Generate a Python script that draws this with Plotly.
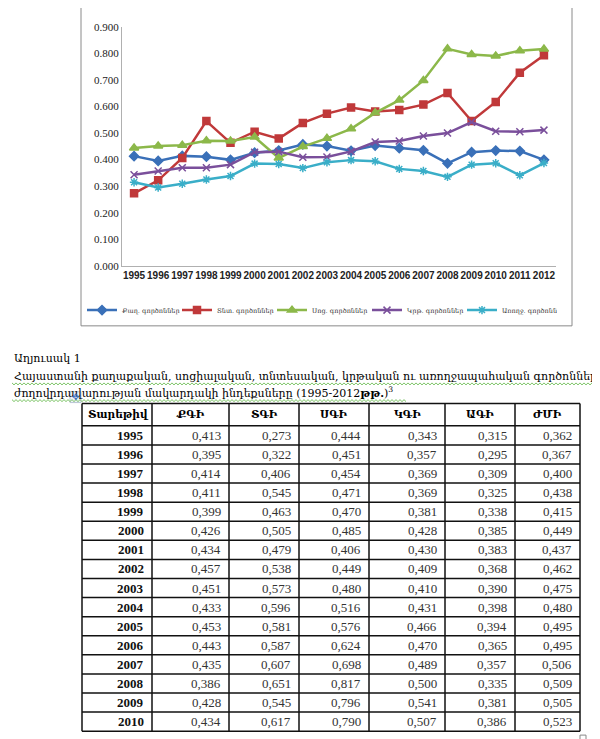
import plotly.graph_objects as go

years = ["1995", "1996", "1997", "1998", "1999", "2000", "2001", "2002", "2003",
         "2004", "2005", "2006", "2007", "2008", "2009", "2010", "2011", "2012"]
series_names = ["Քաղ. գործոններ", "Տնտ. գործոններ", "Սոց. գործոններ",
                "Կրթ. գործոններ", "Առողջ. գործոններ"]
political = [0.413, 0.395, 0.414, 0.411, 0.399, 0.426, 0.434, 0.457, 0.451,
             0.433, 0.453, 0.443, 0.435, 0.386, 0.428, 0.434, 0.432, 0.399]
economic = [0.273, 0.322, 0.406, 0.545, 0.463, 0.505, 0.479, 0.538, 0.573,
            0.596, 0.581, 0.587, 0.607, 0.651, 0.545, 0.617, 0.727, 0.793]
social = [0.444, 0.451, 0.454, 0.471, 0.470, 0.485, 0.406, 0.449, 0.480,
          0.516, 0.576, 0.624, 0.698, 0.817, 0.796, 0.790, 0.810, 0.816]
education = [0.343, 0.357, 0.369, 0.369, 0.381, 0.428, 0.430, 0.409, 0.410,
             0.431, 0.466, 0.470, 0.489, 0.500, 0.541, 0.507, 0.505, 0.511]
health = [0.315, 0.295, 0.309, 0.325, 0.338, 0.385, 0.383, 0.368, 0.390,
          0.398, 0.394, 0.365, 0.357, 0.335, 0.381, 0.386, 0.341, 0.387]
democracy = [0.362, 0.367, 0.400, 0.438, 0.415, 0.449, 0.437, 0.462, 0.475,
             0.480, 0.495, 0.495, 0.506, 0.509, 0.505, 0.523]
table_headers = ["Տարեթիվ", "ՔԳԻ", "ՏԳԻ", "ՍԳԻ", "ԿԳԻ", "ԱԳԻ", "ԺՄԻ"]
y_ticks = [0.0, 0.1, 0.2, 0.3, 0.4, 0.5, 0.6, 0.7, 0.8, 0.9]
caption_title = "Աղյուսակ 1"
caption_line1 = "Հայաստանի քաղաքական, սոցիալական, տնտեսական, կրթական ու առողջապահական գործոնների"
caption_line2 = "ժողովրդավարության մակարդակի ինդեքսները (1995-2012<b>թթ.</b>)<sup>3</sup>"

colors = ["#3a70b8", "#c0393a", "#8cb84a", "#7a4f9b", "#3aaec8"]
symbols = ["diamond", "square", "triangle-up", "x-thin-open", "asterisk-open"]
sizes = [7, 7, 8, 7, 7]
all_series = [political, economic, social, education, health]

W, H = 600, 739
def px(x):
    return x / W
def py(y):
    return 1 - y / H

fig = go.Figure()
for name, vals, c, s, sz in zip(series_names, all_series, colors, symbols, sizes):
    fig.add_trace(go.Scatter(
        x=years, y=vals, name=name, mode="lines+markers",
        line=dict(color=c, width=2.5),
        marker=dict(symbol=s, size=sz, color=c, line=dict(color=c, width=1.5)),
    ))

shapes = [
    # chart frame
    dict(type="rect", xref="paper", yref="paper", x0=px(73), x1=px(564), y0=py(317), y1=1.01,
         line=dict(color="#8a8a8a", width=1)),
    # tiny end marker bottom right
    dict(type="rect", xref="paper", yref="paper", x0=px(572), x1=px(578), y0=py(739), y1=py(733),
         line=dict(color="#888", width=1)),
    # table move handle
    dict(type="rect", xref="paper", yref="paper", x0=px(62), x1=px(73), y0=py(395), y1=py(384),
         line=dict(color="#b8c4d4", width=1), fillcolor="#eef2f8"),
]
annotations = []

# ---- table drawn with shapes and annotations (1995-2010 as in the document)
n = len(democracy)
col_w = [70, 77, 70, 70, 76, 70, 65]
tx0, ty0 = 74, 396
head_h, row_h = 22.6, 19.4
edges = [tx0]
for w in col_w:
    edges.append(edges[-1] + w)
row_edges = [ty0, ty0 + head_h] + [ty0 + head_h + row_h * (i + 1) for i in range(n)]
for xe in edges:
    shapes.append(dict(type="line", xref="paper", yref="paper", x0=px(xe), x1=px(xe),
                       y0=py(row_edges[0]), y1=py(row_edges[-1]),
                       line=dict(color="#111", width=1.5)))
for ye in row_edges:
    shapes.append(dict(type="line", xref="paper", yref="paper", x0=px(edges[0]), x1=px(edges[-1]),
                       y0=py(ye), y1=py(ye), line=dict(color="#111", width=1.5)))

for j, h in enumerate(table_headers):
    if j == 0:
        xx, anc = edges[0] + 4, "left"
    else:
        xx, anc = (edges[j] + edges[j + 1]) / 2, "center"
    annotations.append(dict(text="<b>%s</b>" % h, xref="paper", yref="paper",
                            x=px(xx), y=py(ty0 + head_h / 2 - 1), xanchor=anc, yanchor="middle",
                            showarrow=False,
                            font=dict(family="DejaVu Serif", size=10.5, color="black")))

columns = [years[:n]] + [a[:n] for a in all_series] + [democracy]
for j, col in enumerate(columns):
    for i, v in enumerate(col):
        yc = (row_edges[i + 1] + row_edges[i + 2]) / 2
        if j == 0:
            txt, fnt = "<b>%s</b>" % v, dict(family="Liberation Serif", size=13, color="#111")
        else:
            txt = f"{v:.3f}".replace(".", ",")
            fnt = dict(family="Liberation Serif", size=13, color="#333")
        annotations.append(dict(text=txt, xref="paper", yref="paper",
                                x=px(edges[j + 1] - 6), y=py(yc), xanchor="right",
                                yanchor="middle", showarrow=False, font=fnt))

# ---- caption text
for txt, yy in [(caption_title, 350), (caption_line1, 368), (caption_line2, 385)]:
    annotations.append(dict(text=txt, xref="paper", yref="paper", x=px(4), y=py(yy),
                            xanchor="left", yanchor="middle", showarrow=False,
                            font=dict(family="DejaVu Serif", size=11, color="black")))
annotations.append(dict(text="✥", xref="paper", yref="paper", x=px(67.5), y=py(389.5),
                        showarrow=False, xanchor="center", yanchor="middle",
                        font=dict(family="DejaVu Sans", size=9, color="#3a6fc0")))

# spell-check style wavy underlines
def zigzag(xa, xb, yb):
    pts = []
    x = xa
    k = 0
    while x <= xb:
        pts.append((px(x), py(yb + (1 if k % 2 else -1))))
        x += 2
        k += 1
    return "M " + " L ".join("%.5f,%.5f" % p for p in pts)

for xa, xb, yb in [(4, 600, 376), (4, 398, 393)]:
    shapes.append(dict(type="path", xref="paper", yref="paper", path=zigzag(xa, xb, yb),
                       line=dict(color="#7cc466", width=1)))

fig.update_layout(
    width=W, height=H, margin=dict(l=0, r=0, t=0, b=0),
    paper_bgcolor="white", plot_bgcolor="white",
    showlegend=True,
    legend=dict(orientation="h", x=px(74), y=py(301), yanchor="middle", xanchor="left",
                font=dict(family="DejaVu Serif", size=6.5, color="#333"),
                itemwidth=30, entrywidth=50, tracegroupgap=0, bgcolor="rgba(0,0,0,0)"),
    xaxis=dict(domain=[px(114), px(548)], type="category", range=[-0.5, 17.5],
               showline=True, linecolor="#b0b0b0", ticks="", showgrid=False, tickangle=0,
               tickfont=dict(family="Liberation Sans", size=10, color="#222"),
               tickprefix="<b>", ticksuffix="</b>", anchor="y"),
    yaxis=dict(domain=[py(256), py(13)], range=[0, 0.9], tickvals=y_ticks,
               tickformat=".3f", showline=True, linecolor="#b0b0b0", ticks="",
               showgrid=False, zeroline=False,
               tickfont=dict(family="Liberation Serif", size=11, color="#222"),
               tickprefix="<b>", ticksuffix="</b>", anchor="x"),
    shapes=shapes,
    annotations=annotations,
)

fig.write_html("out.html")
